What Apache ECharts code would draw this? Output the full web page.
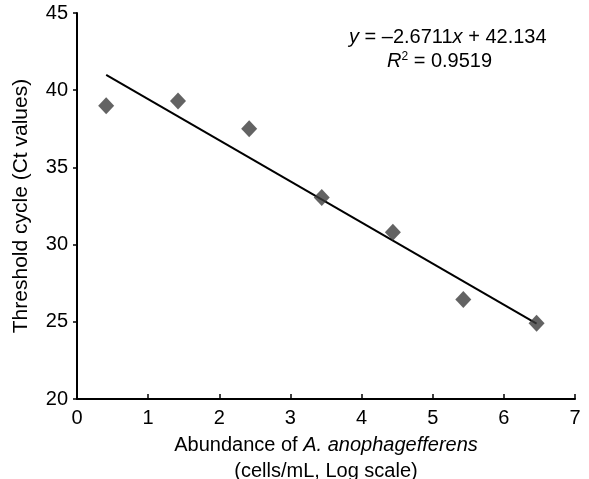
<!DOCTYPE html>
<html>
<head>
<meta charset="utf-8">
<script src="https://cdn.jsdelivr.net/npm/echarts@6/dist/echarts.min.js"></script>
<style>
  html, body { margin: 0; padding: 0; background: #fff; }
  #main { width: 589px; height: 479px; }
</style>
</head>
<body>
<div id="main"></div>
<script>
// measured points (log abundance vs Ct)
var abundance = [0.41, 1.42, 2.42, 3.44, 4.44, 5.43, 6.46];
var ctValues = [39.0, 39.3, 37.5, 33.05, 30.8, 26.45, 24.9];
// trend line endpoints
var trendX = [0.41, 6.46];
var trendY = [41.0, 24.88];
var xTicks = [0, 1, 2, 3, 4, 5, 6, 7];
var yTicks = [20, 25, 30, 35, 40, 45];

var font = 'Liberation Sans, Arial, sans-serif';

var pts = abundance.map(function (x, i) { return [x, ctValues[i]]; });
var trend = trendX.map(function (x, i) { return [x, trendY[i]]; });

var chart = echarts.init(document.getElementById('main'), null, { renderer: 'canvas' });

chart.setOption({
  animation: false,
  grid: { left: 77, right: 14, top: 13, bottom: 80, outerBoundsMode: 'none', containLabel: false },
  xAxis: {
    type: 'value',
    min: xTicks[0],
    max: xTicks[xTicks.length - 1],
    interval: 1,
    axisLine: { lineStyle: { color: '#000', width: 2 } },
    axisTick: { inside: true, length: 5, lineStyle: { color: '#000', width: 1.5 } },
    axisLabel: { color: '#000', fontSize: 20, fontFamily: font, margin: 9 },
    splitLine: { show: false },
    name: 'Abundance of {i|A. anophagefferens}\n(cells/mL, Log scale)',
    nameLocation: 'middle',
    nameGap: 30,
    nameTextStyle: {
      color: '#000', fontSize: 20, fontFamily: font, lineHeight: 26, verticalAlign: 'top',
      rich: { i: { fontStyle: 'italic', fontSize: 20, fontFamily: font, color: '#000', lineHeight: 26 } }
    }
  },
  yAxis: {
    type: 'value',
    min: yTicks[0],
    max: yTicks[yTicks.length - 1],
    interval: 5,
    axisLine: { show: true, lineStyle: { color: '#000', width: 2 } },
    axisTick: { show: true, length: 4, lineStyle: { color: '#000', width: 1.5 } },
    axisLabel: { color: '#000', fontSize: 20, fontFamily: font, margin: 9 },
    splitLine: { show: false },
    name: 'Threshold cycle (Ct values)',
    nameLocation: 'middle',
    nameGap: 45,
    nameTextStyle: { color: '#000', fontSize: 21, fontFamily: font }
  },
  series: [
    {
      type: 'line',
      data: trend,
      symbol: 'none',
      lineStyle: { color: '#000', width: 2 },
      z: 2
    },
    {
      type: 'scatter',
      data: pts,
      symbol: 'diamond',
      symbolSize: [16, 17],
      itemStyle: { color: '#3c3c3c' },
      z: 3
    }
  ],
  graphic: [
    {
      type: 'text',
      left: 349,
      top: 27,
      style: {
        text: '{i|y} = \u20132.6711{i|x} + 42.134',
        font: '20px ' + font,
        fill: '#000',
        rich: { i: { fontStyle: 'italic', fontSize: 20, fontFamily: font, fill: '#000' } }
      }
    },
    {
      type: 'text',
      left: 387,
      top: 51,
      style: {
        text: '{i|R}{s|2} = 0.9519',
        font: '20px ' + font,
        fill: '#000',
        rich: {
          i: { fontStyle: 'italic', fontSize: 20, fontFamily: font, fill: '#000' },
          s: { fontSize: 12, fontFamily: font, fill: '#000', verticalAlign: 'top' }
        }
      }
    }
  ]
});
</script>
</body>
</html>
